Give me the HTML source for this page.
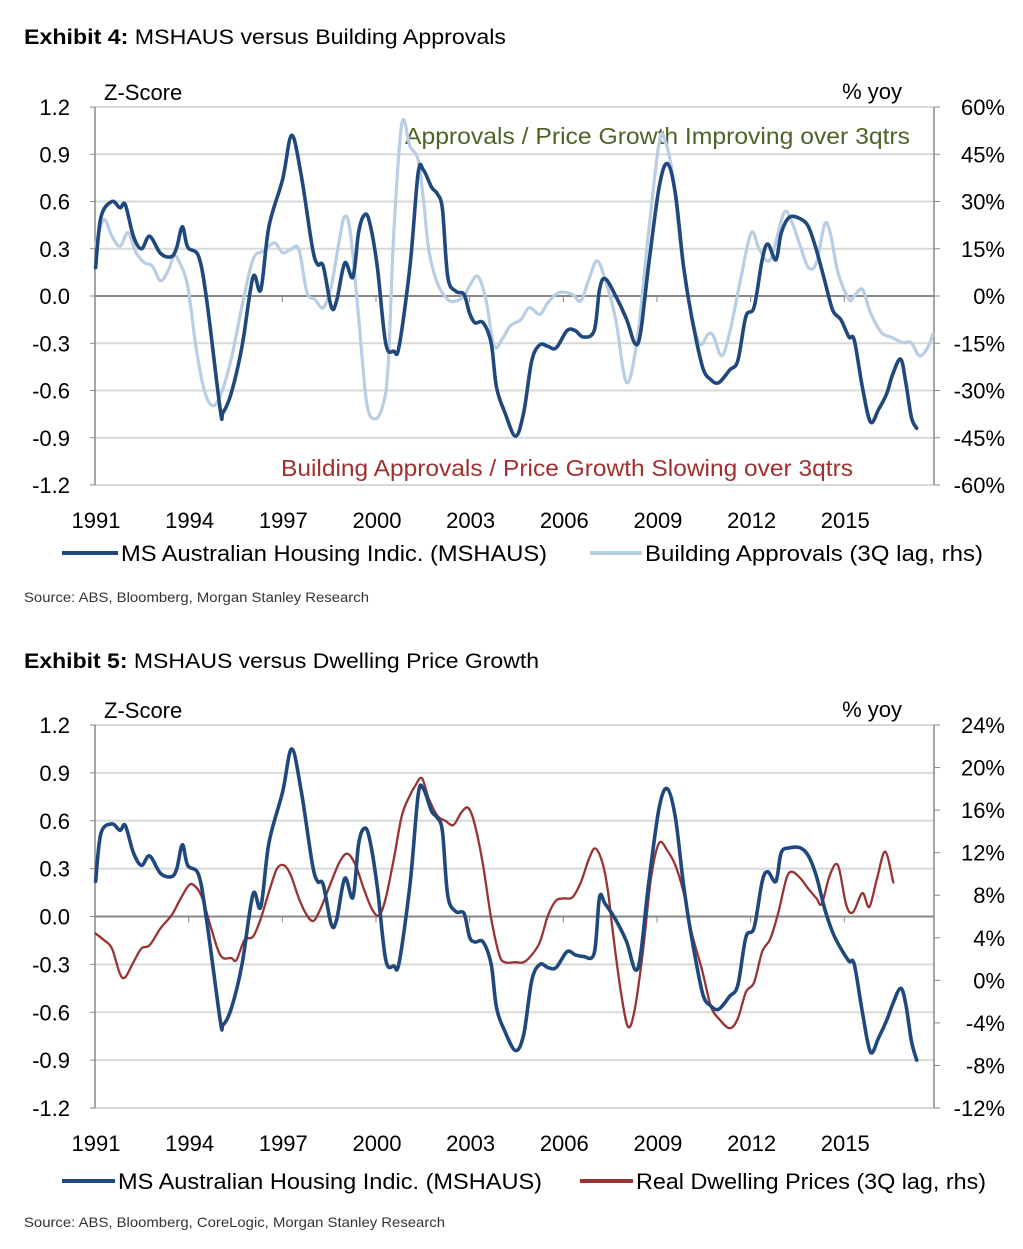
<!DOCTYPE html>
<html><head><meta charset="utf-8"><style>
html,body{margin:0;padding:0;background:#fff;}
svg{display:block;font-family:"Liberation Sans",sans-serif;}
</style></head><body>
<svg id="root" width="1023" height="1249" viewBox="0 0 1023 1249">
<text x="24" y="44" font-size="21" textLength="482" lengthAdjust="spacingAndGlyphs"><tspan font-weight="bold">Exhibit 4:</tspan> MSHAUS versus Building Approvals</text>
<text x="24" y="602" font-size="14" fill="#333" textLength="345" lengthAdjust="spacingAndGlyphs">Source: ABS, Bloomberg, Morgan Stanley Research</text>
<text x="24" y="668" font-size="21" textLength="515" lengthAdjust="spacingAndGlyphs"><tspan font-weight="bold">Exhibit 5:</tspan> MSHAUS versus Dwelling Price Growth</text>
<text x="24" y="1227" font-size="14" fill="#333" textLength="421" lengthAdjust="spacingAndGlyphs">Source: ABS, Bloomberg, CoreLogic, Morgan Stanley Research</text>
<g id="c1"></g>
<g id="c2"></g>
</svg>
<script>
const xYears = [1991,1994,1997,2000,2003,2006,2009,2012,2015];
const zTicks = [1.2,0.9,0.6,0.3,0.0,-0.3,-0.6,-0.9,-1.2];
const rhs1Ticks = [60,45,30,15,0,-15,-30,-45,-60];
const rhs2Ticks = [24,20,16,12,8,4,0,-4,-8,-12];
const mshausDates = [1991.02,1991.19,1991.54,1991.80,1991.97,1992.23,1992.49,1992.75,1993.10,1993.45,1993.62,1993.80,1993.97,1994.32,1994.58,1995.01,1995.10,1995.36,1995.71,1996.06,1996.31,1996.57,1997.01,1997.30,1997.61,1997.96,1998.13,1998.31,1998.57,1998.74,1999.00,1999.26,1999.44,1999.61,1999.78,2000.04,2000.31,2000.57,2000.74,2001.09,2001.35,2001.52,2001.78,2001.96,2002.13,2002.30,2002.56,2002.82,2003.00,2003.17,2003.43,2003.69,2003.86,2004.13,2004.47,2004.73,2004.99,2005.25,2005.51,2005.77,2006.12,2006.38,2006.64,2006.99,2007.16,2007.34,2007.68,2008.03,2008.29,2008.47,2008.73,2009.07,2009.33,2009.59,2009.85,2010.11,2010.46,2010.72,2010.98,2011.33,2011.59,2011.85,2012.11,2012.37,2012.55,2012.81,2012.98,2013.24,2013.59,2013.85,2014.11,2014.37,2014.63,2014.89,2015.15,2015.32,2015.58,2015.84,2016.10,2016.36,2016.53,2016.80,2016.97,2017.15,2017.32];
const mshausValues = [0.18,0.50,0.60,0.56,0.58,0.38,0.30,0.38,0.27,0.25,0.31,0.44,0.31,0.25,-0.03,-0.72,-0.74,-0.62,-0.32,0.12,0.04,0.44,0.74,1.02,0.76,0.31,0.20,0.19,-0.07,-0.03,0.21,0.12,0.40,0.51,0.48,0.19,-0.30,-0.35,-0.32,0.19,0.78,0.80,0.69,0.65,0.55,0.12,0.03,0.01,-0.11,-0.17,-0.17,-0.30,-0.58,-0.74,-0.89,-0.74,-0.41,-0.31,-0.32,-0.33,-0.22,-0.22,-0.26,-0.22,0.04,0.11,0.00,-0.15,-0.30,-0.24,0.19,0.69,0.84,0.65,0.19,-0.13,-0.45,-0.53,-0.55,-0.47,-0.41,-0.13,-0.07,0.23,0.33,0.23,0.40,0.50,0.49,0.44,0.29,0.10,-0.09,-0.15,-0.26,-0.28,-0.58,-0.80,-0.72,-0.62,-0.51,-0.40,-0.55,-0.77,-0.84];
const mshaus2Values = [0.22,0.52,0.58,0.54,0.57,0.40,0.32,0.38,0.27,0.25,0.30,0.45,0.32,0.26,-0.03,-0.65,-0.68,-0.58,-0.30,0.14,0.06,0.46,0.78,1.05,0.78,0.33,0.22,0.20,-0.05,-0.02,0.24,0.12,0.45,0.55,0.50,0.19,-0.27,-0.31,-0.29,0.20,0.76,0.80,0.66,0.62,0.53,0.13,0.03,0.02,-0.13,-0.16,-0.16,-0.30,-0.57,-0.72,-0.84,-0.74,-0.40,-0.30,-0.32,-0.32,-0.22,-0.24,-0.25,-0.23,0.12,0.08,-0.02,-0.16,-0.33,-0.25,0.20,0.68,0.80,0.62,0.20,-0.13,-0.48,-0.56,-0.58,-0.50,-0.43,-0.13,-0.07,0.22,0.28,0.22,0.40,0.43,0.43,0.38,0.25,0.05,-0.10,-0.20,-0.28,-0.30,-0.60,-0.85,-0.76,-0.65,-0.56,-0.45,-0.55,-0.78,-0.90];
const apprDates = [1991.02,1991.28,1991.54,1991.80,1992.06,1992.32,1992.58,1992.84,1993.10,1993.36,1993.53,1993.71,1993.97,1994.23,1994.49,1994.75,1995.01,1995.36,1995.71,1996.06,1996.40,1996.75,1997.01,1997.27,1997.53,1997.79,1998.05,1998.31,1998.57,1998.83,1999.00,1999.18,1999.44,1999.70,1999.96,2000.22,2000.39,2000.57,2000.83,2001.09,2001.35,2001.52,2001.69,2001.96,2002.30,2002.56,2002.82,2003.00,2003.26,2003.52,2003.78,2004.04,2004.30,2004.65,2004.91,2005.25,2005.51,2005.86,2006.29,2006.56,2006.82,2007.08,2007.34,2007.68,2008.03,2008.38,2008.73,2009.07,2009.25,2009.51,2009.77,2010.11,2010.38,2010.64,2010.81,2011.07,2011.33,2011.68,2012.02,2012.28,2012.63,2013.07,2013.33,2013.59,2013.85,2014.11,2014.37,2014.55,2014.80,2015.15,2015.32,2015.58,2015.84,2016.19,2016.53,2016.88,2017.14,2017.41,2017.67,2017.84];
const apprValues = [15.8,24.3,19.0,15.8,20.1,13.7,10.6,9.5,4.8,8.4,12.7,10.6,3.2,-15.8,-29.6,-34.8,-31.7,-20.1,-3.2,11.6,14.3,16.9,13.7,14.8,14.8,1.1,-1.1,-3.7,3.2,18.0,25.3,20.1,-6.3,-33.8,-39.0,-34.8,-22.2,20.1,54.9,47.5,43.3,30.6,14.8,4.2,-1.1,-1.6,0,3.2,6.3,-1.1,-15.8,-13.7,-9.5,-7.4,-3.7,-5.8,-2.1,1.1,0.5,-1.6,5.3,11.1,5.3,-7.4,-27.5,-12.7,20.1,48.6,49.6,38.0,14.8,-6.3,-15.3,-12.1,-12.7,-19.0,-11.6,5.3,20.1,14.8,11.6,26.4,23.2,15.8,9.0,10.6,22.7,20.1,7.4,-1.1,0,2.1,-5.3,-11.6,-13.2,-14.8,-14.8,-19.0,-16.4,-12.1];
const priceDates = [1991.02,1991.28,1991.54,1991.80,1991.97,1992.23,1992.49,1992.75,1993.10,1993.45,1993.71,1993.97,1994.14,1994.40,1994.66,1994.92,1995.10,1995.36,1995.53,1995.79,1996.06,1996.31,1996.57,1996.83,1997.06,1997.27,1997.53,1997.79,1998.00,1998.22,1998.48,1998.83,1999.09,1999.35,1999.61,1999.87,2000.10,2000.31,2000.57,2000.83,2001.09,2001.26,2001.47,2001.69,2001.96,2002.22,2002.48,2002.74,2002.96,2003.17,2003.43,2003.69,2003.95,2004.13,2004.47,2004.73,2004.99,2005.25,2005.51,2005.77,2006.03,2006.29,2006.56,2006.82,2007.02,2007.25,2007.42,2007.60,2007.86,2008.08,2008.29,2008.55,2008.81,2009.07,2009.33,2009.59,2009.85,2010.11,2010.46,2010.72,2010.98,2011.33,2011.59,2011.85,2012.11,2012.37,2012.63,2012.89,2013.15,2013.33,2013.59,2013.85,2014.11,2014.28,2014.54,2014.80,2015.06,2015.28,2015.58,2015.80,2016.05,2016.31,2016.57];
const priceValues = [4.4,3.8,3.0,0.6,0.3,1.7,3.0,3.3,4.9,6.1,7.5,8.8,9.0,8.0,5.5,3.0,2.1,2.1,1.9,3.8,4.1,5.8,8.3,10.5,10.8,9.9,7.7,6.1,5.6,6.7,8.6,11.1,11.9,10.8,8.6,6.7,6.1,7.7,11.4,15.5,17.4,18.3,19.0,17.1,15.5,15.0,14.6,15.8,16.2,14.6,10.8,5.8,2.4,1.7,1.7,1.7,2.4,3.6,6.1,7.5,7.7,7.8,9.2,11.4,12.4,11.1,8.6,4.2,-1.4,-4.4,-2.7,2.7,9.6,12.9,12.2,10.8,8.3,4.5,0.8,-2.4,-3.6,-4.5,-3.6,-1.1,-0.2,2.7,3.9,6.4,9.6,10.2,9.6,8.6,7.7,7.2,9.9,10.8,7.1,6.4,8.2,6.9,9.6,12.1,9.2];

const NS='http://www.w3.org/2000/svg';
function mk(parent, tag, attrs, text){const e=document.createElementNS(NS,tag);for(const k in attrs)e.setAttribute(k,attrs[k]);if(text!==undefined)e.textContent=text;parent.appendChild(e);return e;}
const X0=95, X1=934;
function xs(y){return X0+(y-1991)*31.22;}
function smooth(pts){let d='M'+pts[0][0].toFixed(1)+','+pts[0][1].toFixed(1);
 for(let i=0;i<pts.length-1;i++){const p0=pts[Math.max(0,i-1)],p1=pts[i],p2=pts[i+1],p3=pts[Math.min(pts.length-1,i+2)];
 const c1=[p1[0]+(p2[0]-p0[0])/6,p1[1]+(p2[1]-p0[1])/6],c2=[p2[0]-(p3[0]-p1[0])/6,p2[1]-(p3[1]-p1[1])/6];
 d+=' C'+c1[0].toFixed(1)+','+c1[1].toFixed(1)+' '+c2[0].toFixed(1)+','+c2[1].toFixed(1)+' '+p2[0].toFixed(1)+','+p2[1].toFixed(1);}return d;}

function chart(g, top, bot, rTicks, rMax, rMin, series, legend, notes){
 const yz=v=>top+(1.2-v)/2.4*(bot-top);
 const yr=v=>top+(rMax-v)/(rMax-rMin)*(bot-top);
 zTicks.forEach(t=>{ if(t!==0){const gl=mk(g,'line',{x1:X0,x2:X1,y1:yz(t),y2:yz(t),stroke:'#d9d9d9','stroke-width':2});
 
 }
 const tl=mk(g,'text',{x:70,y:yz(t)+8,'font-size':22,'text-anchor':'end'},t.toFixed(1));
 
 
 mk(g,'line',{x1:X0-5,x2:X0,y1:yz(t),y2:yz(t),stroke:'#888','stroke-width':1});});
 rTicks.forEach(t=>{mk(g,'line',{x1:X1,x2:X1+6,y1:yr(t),y2:yr(t),stroke:'#888','stroke-width':1});
 const tl=mk(g,'text',{x:1005,y:yr(t)+8,'font-size':22,'text-anchor':'end'},t+'%');
 
 });
 mk(g,'line',{x1:X0,x2:X0,y1:top,y2:bot,stroke:'#888','stroke-width':1.5});
 mk(g,'line',{x1:X1,x2:X1,y1:top,y2:bot,stroke:'#888','stroke-width':1.5});
 const zl=mk(g,'line',{x1:X0,x2:X1,y1:yz(0),y2:yz(0),stroke:'#888','stroke-width':2});
 
 
 xYears.forEach(y=>{ if(y>1991) mk(g,'line',{x1:xs(y),x2:xs(y),y1:yz(0),y2:yz(0)+6,stroke:'#888','stroke-width':1});
 const tl=mk(g,'text',{x:xs(y)+1,y:bot+43,'font-size':22,'text-anchor':'middle'},String(y));
 
 });
 const a=mk(g,'text',{x:104,y:top-7,'font-size':22},'Z-Score');
 
 
 const b=mk(g,'text',{x:902,y:top-8,'font-size':22,'text-anchor':'end'},'% yoy');
 
 
 notes.forEach(n=>{const t=mk(g,'text',{x:n.x,y:n.y,'font-size':23,fill:n.c,textLength:n.w,lengthAdjust:'spacingAndGlyphs'},n.t);
 
 });
 series.forEach(s=>{const pts=s.d.map((d,i)=>[xs(d), s.rhs?yr(s.v[i]):yz(s.v[i])]);
 const p=mk(g,'path',{d:smooth(pts),fill:'none',stroke:s.c,'stroke-width':s.w,'stroke-linejoin':'round','stroke-linecap':'round'});
 
 });
 legend.forEach(l=>{mk(g,'line',{x1:l.x1,x2:l.x2,y1:l.y,y2:l.y,stroke:l.c,'stroke-width':4});
 const t=mk(g,'text',{x:l.x2+3,y:l.y+8,'font-size':22,textLength:l.w,lengthAdjust:'spacingAndGlyphs'},l.t);
 
 });
}
chart(document.getElementById('c1'),107,485,rhs1Ticks,60,-60,
 [{d:apprDates,v:apprValues,rhs:true,c:'#b9cde5',w:3.2,name:'building-approvals-line'},
  {d:mshausDates,v:mshausValues,rhs:false,c:'#1f497d',w:3.6,name:'mshaus-line'}],
 [{x1:62,x2:118,y:553,c:'#1f497d',t:'MS Australian Housing Indic. (MSHAUS)',w:426},
  {x1:590,x2:642,y:553,c:'#b9cde5',t:'Building Approvals (3Q lag, rhs)',w:338}],
 [{x:405,y:144,c:'#4f6228',t:'Approvals / Price Growth Improving over 3qtrs',w:505},
  {x:281,y:476,c:'#a0302f',t:'Building Approvals / Price Growth Slowing over 3qtrs',w:572}]);
chart(document.getElementById('c2'),725,1108,rhs2Ticks,24,-12,
 [{d:priceDates,v:priceValues,rhs:true,c:'#993333',w:2.3,name:'real-dwelling-prices-line'},
  {d:mshausDates,v:mshaus2Values,rhs:false,c:'#1f497d',w:3.6,name:'mshaus-line'}],
 [{x1:62,x2:115,y:1181,c:'#1f497d',t:'MS Australian Housing Indic. (MSHAUS)',w:424},
  {x1:580,x2:633,y:1181,c:'#993333',t:'Real Dwelling Prices (3Q lag, rhs)',w:350}],
 []);
</script>
</body></html>
